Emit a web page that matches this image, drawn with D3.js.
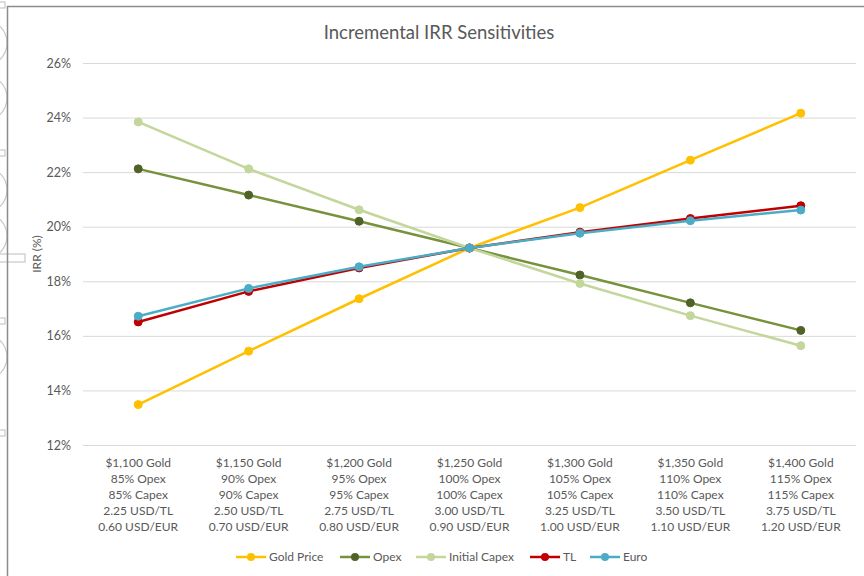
<!DOCTYPE html>
<html>
<head>
<meta charset="utf-8">
<script src="https://cdn.jsdelivr.net/npm/d3@7"></script>
<style>
  body { margin: 0; background: #fff; }
  svg text { font-family: Lato, "Open Sans", sans-serif; fill: #595959; }
</style>
</head>
<body>
<svg id="chart" width="864" height="576"></svg>
<script>
const categories = ["1100", "1150", "1200", "1250", "1300", "1350", "1400"];
const catLines = [
    ["$1,100 Gold", "85% Opex", "85% Capex", "2.25 USD/TL", "0.60 USD/EUR"],
    ["$1,150 Gold", "90% Opex", "90% Capex", "2.50 USD/TL", "0.70 USD/EUR"],
    ["$1,200 Gold", "95% Opex", "95% Capex", "2.75 USD/TL", "0.80 USD/EUR"],
    ["$1,250 Gold", "100% Opex", "100% Capex", "3.00 USD/TL", "0.90 USD/EUR"],
    ["$1,300 Gold", "105% Opex", "105% Capex", "3.25 USD/TL", "1.00 USD/EUR"],
    ["$1,350 Gold", "110% Opex", "110% Capex", "3.50 USD/TL", "1.10 USD/EUR"],
    ["$1,400 Gold", "115% Opex", "115% Capex", "3.75 USD/TL", "1.20 USD/EUR"]
];

const goldPrice = [13.48, 15.44, 17.36, 19.22, 20.70, 22.44, 24.16];
const opex = [22.12, 21.16, 20.20, 19.22, 18.23, 17.21, 16.20];
const initialCapex = [23.84, 22.12, 20.62, 19.22, 17.92, 16.74, 15.64];
const tl = [16.51, 17.63, 18.49, 19.22, 19.80, 20.30, 20.77];
const euro = [16.72, 17.74, 18.53, 19.22, 19.76, 20.22, 20.61];

const yTicks = [12, 14, 16, 18, 20, 22, 24, 26];

const series = [
    { name: "Gold Price", values: goldPrice, line: "#FFC000", marker: "#FFC000" },
    { name: "Opex", values: opex, line: "#76923C", marker: "#4F6228" },
    { name: "Initial Capex", values: initialCapex, line: "#C3D69B", marker: "#C3D69B" },
    { name: "TL", values: tl, line: "#C00000", marker: "#C00000" },
    { name: "Euro", values: euro, line: "#4BACC6", marker: "#4BACC6" }
];

const plot = { left: 83, right: 856, top: 63, bottom: 445 };

const svg = d3.select("#chart");

// stray shapes peeking in from the left edge
const deco = svg.append("g").attr("fill", "none").attr("stroke", "#c8c8c8").attr("stroke-width", 1.2);
[43, 98, 190, 236, 357].forEach(cy => {
    deco.append("circle").attr("cx", -16).attr("cy", cy).attr("r", 23);
});
[2, 150, 318, 430].forEach(sy => {
    deco.append("rect").attr("x", -4).attr("y", sy).attr("width", 9).attr("height", 6);
});
deco.append("rect").attr("x", -4).attr("y", 254).attr("width", 29).attr("height", 8);

// chart frame
svg.append("path")
    .attr("d", "M7.5,576 V6.5 H864")
    .attr("fill", "none")
    .attr("stroke", "#8c8c8c")
    .attr("stroke-width", 1.5);

const x = d3.scaleBand()
    .domain(categories)
    .range([plot.left, plot.right]);

const y = d3.scaleLinear()
    .domain([12, 26])
    .range([plot.bottom, plot.top]);

const yAxis = d3.axisLeft(y)
    .tickValues(yTicks)
    .tickSize(-(plot.right - plot.left))
    .tickPadding(12)
    .tickFormat(d => d + "%");

const gy = svg.append("g")
    .attr("transform", `translate(${plot.left},0)`)
    .call(yAxis);
gy.select(".domain").remove();
gy.selectAll(".tick line").attr("stroke", "#d9d9d9").attr("stroke-width", 1);
gy.selectAll(".tick text").attr("font-size", 12.5);

// category labels, five lines each
const xl = svg.append("g")
    .selectAll("text")
    .data(categories)
    .join("text")
    .attr("text-anchor", "middle")
    .attr("font-size", 12)
    .attr("y", 467);
xl.selectAll("tspan")
    .data((d, i) => catLines[i])
    .join("tspan")
    .attr("x", function () { return x(d3.select(this.parentNode).datum()) + x.bandwidth() / 2; })
    .attr("dy", (d, i) => i === 0 ? 0 : 16)
    .text(d => d);

const cx = (d, i) => x(categories[i]) + x.bandwidth() / 2;

const line = d3.line()
    .x(cx)
    .y(d => y(d));

const sg = svg.append("g")
    .selectAll("g")
    .data(series)
    .join("g");

sg.append("path")
    .attr("d", s => line(s.values))
    .attr("fill", "none")
    .attr("stroke", s => s.line)
    .attr("stroke-width", 2.5);

sg.selectAll("circle")
    .data(s => s.values.map(v => ({ v, s })))
    .join("circle")
    .attr("cx", (d, i) => cx(d, i))
    .attr("cy", d => y(d.v))
    .attr("r", 4)
    .attr("fill", d => d.s.marker)
    .attr("stroke", d => d.s.marker);

svg.append("text")
    .attr("x", 439)
    .attr("y", 39)
    .attr("text-anchor", "middle")
    .attr("font-size", 18.5)
    .text("Incremental IRR Sensitivities");

svg.append("text")
    .attr("transform", "translate(41,254) rotate(-90)")
    .attr("text-anchor", "middle")
    .attr("font-size", 12)
    .text("IRR (%)");

// legend
const legendX = [236, 340, 416, 530, 590];
const lg = svg.append("g")
    .selectAll("g")
    .data(series)
    .join("g")
    .attr("transform", (d, i) => `translate(${legendX[i]},557)`);
lg.append("line")
    .attr("x1", 0).attr("x2", 30)
    .attr("stroke", d => d.line)
    .attr("stroke-width", 2.5);
lg.append("circle")
    .attr("cx", 15).attr("r", 4)
    .attr("fill", d => d.marker);
lg.append("text")
    .attr("x", 33)
    .attr("dy", "0.35em")
    .attr("font-size", 12)
    .text(d => d.name);
</script>
</body>
</html>
